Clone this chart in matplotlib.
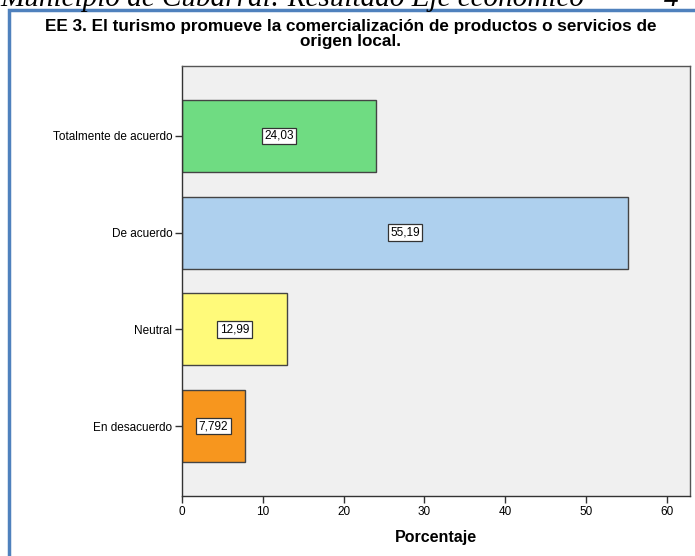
import matplotlib.pyplot as plt
import matplotlib.patches as mpatches

# ---------- Data ----------
categories = ["Totalmente de acuerdo", "De acuerdo", "Neutral", "En desacuerdo"]
percentages = [24.03, 55.19, 12.99, 7.792]
value_labels = ["24,03", "55,19", "12,99", "7,792"]
bar_colors = ["#6fdc82", "#aed0ee", "#fffa7a", "#f7961e"]
x_ticks = [0, 10, 20, 30, 40, 50, 60]

title = "EE 3. El turismo promueve la comercialización de productos o servicios de\norigen local."
page_header = "Municipio de Cubarral: Resultado Eje económico"

plt.rcParams["font.family"] = ["Liberation Sans", "DejaVu Sans"]

fig = plt.figure(figsize=(6.95, 5.56), dpi=100)
fig.patch.set_facecolor("white")

# cut-off header text from the document page above the chart
fig.text(0.0, 1 - 6 / 556, page_header, family=["Liberation Serif"], style="italic",
         fontsize=21, ha="left", va="baseline", color="black")
fig.text(0.955, 1 - 6 / 556, "4", family=["Liberation Serif"], style="italic",
         fontsize=21, ha="left", va="baseline", color="black")

# white area inside the blue frame, so the header is cut at the frame line
frame_bg = mpatches.Rectangle((9 / 695, -0.1), 1.2, 1 - 10 / 556 + 0.1,
                              transform=fig.transFigure, facecolor="white",
                              edgecolor="none", zorder=1)
fig.patches.append(frame_bg)
frame = mpatches.Rectangle((9 / 695, -0.1), 1.2, 1 - 10 / 556 + 0.1,
                           transform=fig.transFigure, fill=False,
                           edgecolor="#4f81bd", linewidth=2.5, clip_on=False, zorder=2)
fig.patches.append(frame)

ax = fig.add_axes([182 / 695, 1 - 496 / 556, (690 - 182) / 695, (496 - 66) / 556])
ax.set_zorder(3)
ax.set_facecolor("#f0f0f0")

y_pos = list(range(len(categories)))
bars = ax.barh(y_pos, percentages, height=0.745, color=bar_colors,
               edgecolor="#444444", linewidth=1.0)

for y, val, lab in zip(y_pos, percentages, value_labels):
    ax.text(val / 2, y, lab, ha="center", va="center", fontsize=8.5,
            bbox=dict(boxstyle="square,pad=0.2", facecolor="white",
                      edgecolor="#333333", linewidth=0.9))

ax.set_yticks(y_pos)
ax.set_yticklabels(categories, fontsize=8.5)
ax.set_ylim(3.724, -0.724)
ax.set_xlim(0, 62.9)
ax.set_xticks(x_ticks)
ax.set_xticklabels([str(t) for t in x_ticks], fontsize=8.5)
ax.tick_params(axis="both", direction="out", length=5, width=1, color="#333333", pad=2)

for s in ax.spines.values():
    s.set_color("#555555")
    s.set_linewidth(1)
ax.spines["left"].set_color("#333333")
ax.spines["bottom"].set_color("#333333")

ax.set_xlabel("Porcentaje", fontsize=11.5, fontweight="bold", labelpad=9)

fig.text(0.505, 1 - 34 / 556, title, ha="center", va="center", fontsize=12.3,
         fontweight="bold", linespacing=0.95, zorder=4)

plt.savefig("out.png", dpi=100)
